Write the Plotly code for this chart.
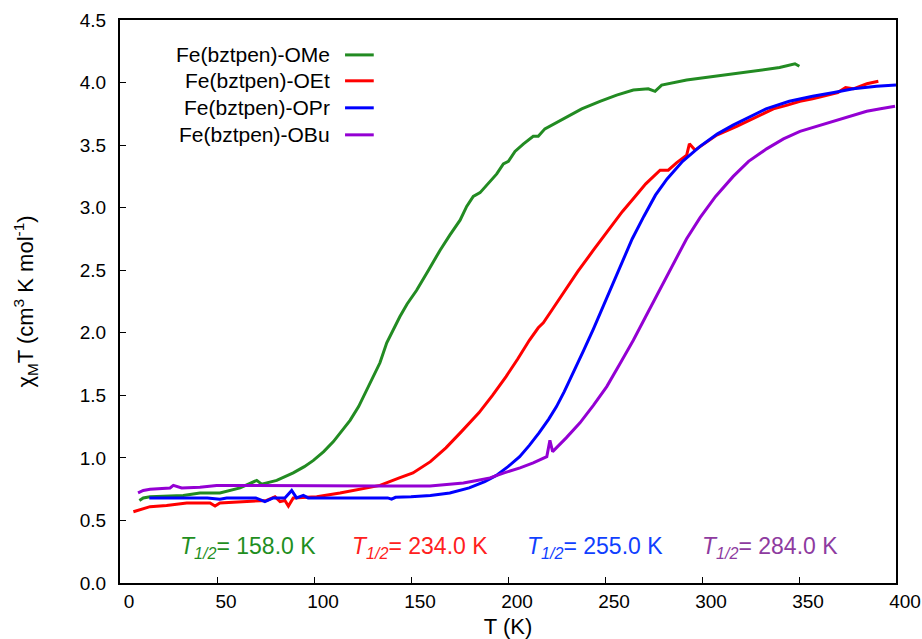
import plotly.graph_objects as go

# ---- data ----
names = ["Fe(bztpen)-OMe", "Fe(bztpen)-OEt", "Fe(bztpen)-OPr", "Fe(bztpen)-OBu"]
colors = ["#228B22", "#FF0000", "#0000FF", "#9400D3"]
label_colors = ["#1f8f1f", "#ff2020", "#1040ff", "#8e3ba0"]
t_half = [158.0, 234.0, 255.0, 284.0]
t_half_x = [30, 118.5, 209, 299]

T_OMe = [10, 12, 15.5, 32.6, 41.2, 51.5, 61.9, 70.5, 73, 80.8, 89.3, 95, 99.7, 105, 110, 114,
         118.6, 123, 127.2, 131, 134, 137.5, 141, 144.3, 148, 152.9, 159, 165, 170, 175.3, 178.7,
         182.1, 185.6, 190, 194.2, 197.6, 200.2, 203.6, 208, 213, 215.6, 219, 225, 230.3, 238,
         247.4, 256, 264.6, 272.3, 275.8, 279.2, 292.1, 302, 312.7, 316.1, 331.6, 340, 347.9, 350.2]
X_OMe = [0.66, 0.68, 0.69, 0.70, 0.72, 0.72, 0.76, 0.82, 0.79, 0.82, 0.88, 0.93, 0.98, 1.05, 1.13, 1.21,
         1.30, 1.41, 1.54, 1.66, 1.76, 1.92, 2.03, 2.13, 2.23, 2.34, 2.50, 2.66, 2.78, 2.90, 3.01,
         3.09, 3.12, 3.20, 3.27, 3.35, 3.37, 3.45, 3.51, 3.57, 3.57, 3.63, 3.68, 3.73, 3.79,
         3.85, 3.90, 3.94, 3.95, 3.93, 3.98, 4.02, 4.04, 4.06, 4.07, 4.10, 4.12, 4.15, 4.13]

T_OEt = [6.9, 15.5, 24, 34.4, 46.4, 49, 51.5, 63.6, 75.6, 79.9, 82.5, 85, 86.8, 89.3, 101.4,
         113.4, 127.2, 134, 144, 151, 160, 168, 176, 185, 192, 199, 205, 211, 215.6, 218.2, 223,
         228.5, 236, 244, 252, 259, 265, 271, 278.4, 282.6, 287, 292.1, 293.5, 296.4, 302, 307.6,
         317.9, 327, 336.8, 344, 350.5, 357, 364.3, 370, 374, 378, 385, 390.9]
X_OEt = [0.57, 0.61, 0.62, 0.64, 0.64, 0.615, 0.64, 0.65, 0.66, 0.69, 0.65, 0.66, 0.615, 0.68, 0.69,
         0.72, 0.76, 0.78, 0.84, 0.88, 0.97, 1.08, 1.21, 1.36, 1.50, 1.65, 1.79, 1.94, 2.04, 2.08, 2.19,
         2.32, 2.49, 2.66, 2.83, 2.97, 3.08, 3.19, 3.30, 3.30, 3.36, 3.42, 3.51, 3.46, 3.52, 3.58,
         3.65, 3.72, 3.79, 3.82, 3.85, 3.87, 3.90, 3.92, 3.96, 3.95, 3.99, 4.01]

T_OPr = [15.1, 30, 45, 51.5, 55, 70, 74.7, 79, 85, 88.5, 91, 94.5, 97, 110, 125, 138, 140,
         142, 150, 160, 170, 180, 188, 194, 200, 206, 211, 216, 221, 225, 229, 234, 239, 244,
         249, 254, 259, 264, 270, 276, 282, 290, 299, 308, 316, 325, 333, 345, 357, 368, 378,
         390, 400]
X_OPr = [0.68, 0.68, 0.68, 0.67, 0.68, 0.68, 0.65, 0.68, 0.68, 0.74, 0.68, 0.70, 0.68, 0.68,
         0.68, 0.68, 0.67, 0.685, 0.69, 0.70, 0.72, 0.76, 0.81, 0.86, 0.93, 1.01, 1.10, 1.20, 1.31,
         1.41, 1.53, 1.69, 1.86, 2.03, 2.21, 2.39, 2.57, 2.75, 2.93, 3.10, 3.23, 3.37, 3.49, 3.59,
         3.66, 3.73, 3.79, 3.85, 3.89, 3.92, 3.95, 3.97, 3.98]

T_OBu = [9.3, 12, 15.5, 25.8, 27.5, 31.8, 41.2, 49.8, 70, 100, 134, 159.8, 177, 184, 190.7, 198,
         206.2, 213, 220, 221.6, 223, 230, 237.1, 244, 250.9, 258, 264.6, 271, 278.4, 285, 292, 299,
         307, 316.1, 324, 333.3, 342, 350.5, 359, 367.7, 375.4, 384.9, 392, 399.5]
X_OBu = [0.72, 0.74, 0.75, 0.76, 0.78, 0.76, 0.765, 0.78, 0.78, 0.775, 0.775, 0.775, 0.80, 0.82,
         0.84, 0.88, 0.92, 0.96, 1.01, 1.14, 1.05, 1.16, 1.28, 1.42, 1.57, 1.76, 1.94, 2.13, 2.35,
         2.55, 2.75, 2.92, 3.09, 3.25, 3.37, 3.47, 3.55, 3.61, 3.65, 3.69, 3.73, 3.77, 3.79, 3.81]

x_ticks = [0, 50, 100, 150, 200, 250, 300, 350, 400]
y_ticks = [0.0, 0.5, 1.0, 1.5, 2.0, 2.5, 3.0, 3.5, 4.0, 4.5]

series_T = [T_OMe, T_OEt, T_OPr, T_OBu]
series_X = [X_OMe, X_OEt, X_OPr, X_OBu]

FONT = "Liberation Sans, Arial, Helvetica, sans-serif"

fig = go.Figure()
for nm, c, tx, yx in zip(names, colors, series_T, series_X):
    fig.add_trace(go.Scatter(x=tx, y=yx, mode="lines", name=nm,
                             line=dict(color=c, width=3), showlegend=False))

# manual legend (text on the left, line sample on the right)
leg_y = [0.938, 0.892, 0.844, 0.796]
for nm, c, yy in zip(names, colors, leg_y):
    fig.add_annotation(x=0.2732, y=yy, xref="paper", yref="paper", text=nm,
                       showarrow=False, xanchor="right", yanchor="middle",
                       font=dict(family=FONT, size=21, color="black"))
    fig.add_shape(type="line", xref="paper", yref="paper", x0=0.290, x1=0.327,
                  y0=yy, y1=yy, line=dict(color=c, width=3))

# T1/2 labels
for th, tx, c in zip(t_half, t_half_x, label_colors):
    fig.add_annotation(x=tx, y=0.28, xref="x", yref="y",
                       text=f"<i>T</i><sub><i>1/2</i></sub>= {th:.1f} K",
                       showarrow=False, xanchor="left", yanchor="middle",
                       font=dict(family=FONT, size=23, color=c))

axis_common = dict(showline=True, linecolor="black", linewidth=2, mirror=True,
                   ticks="inside", ticklen=6, tickwidth=1, tickcolor="black",
                   showgrid=False, zeroline=False, automargin=False,
                   tickfont=dict(family=FONT, size=19, color="black"))

fig.update_xaxes(range=[0, 400], tickvals=x_ticks, ticktext=[str(v) for v in x_ticks],
                 title=dict(text="T (K)", font=dict(family=FONT, size=22, color="black"), standoff=8),
                 ticklabelshift=9, ticklabelstandoff=0, **axis_common)
fig.update_yaxes(range=[0, 4.5], tickvals=y_ticks, ticktext=[f"{v:.1f}" for v in y_ticks],
                 title=dict(text="χ<sub>M</sub>T (cm<sup>3</sup> K mol<sup>-1</sup>)",
                            font=dict(family=FONT, size=22, color="black"), standoff=40),
                 ticklabelstandoff=8, **axis_common)

fig.update_layout(width=922, height=639, margin=dict(l=120, r=26, t=20, b=56),
                  plot_bgcolor="white", paper_bgcolor="white",
                  font=dict(family=FONT, color="black"))

fig.write_html("out.html")
